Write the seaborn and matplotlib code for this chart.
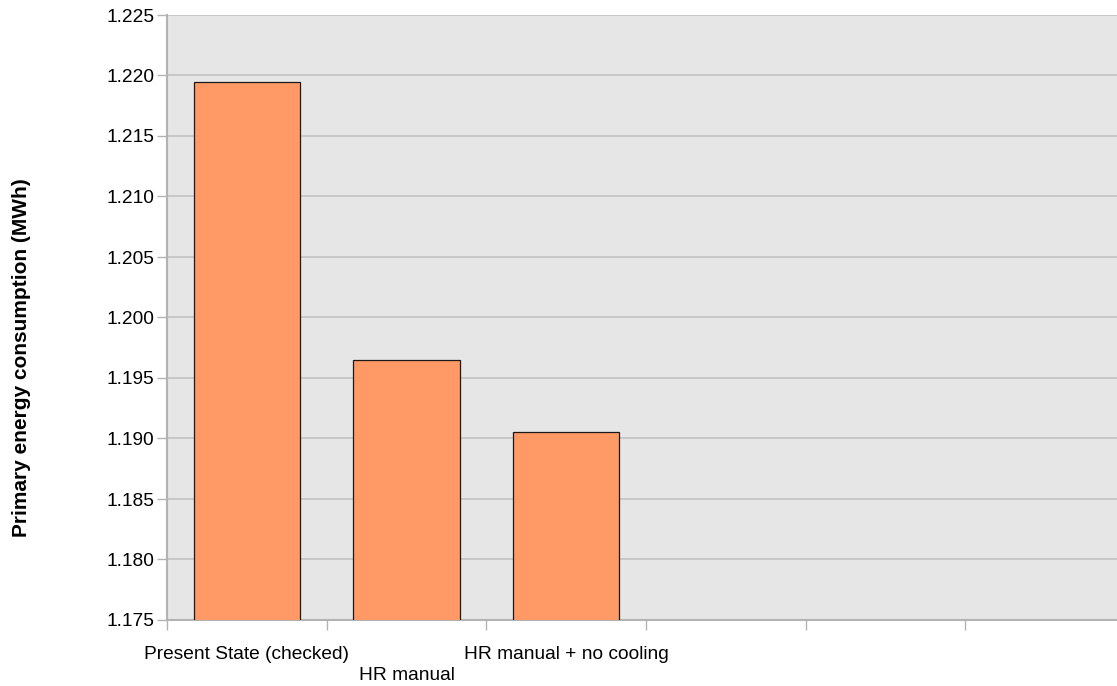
import matplotlib
matplotlib.use("Agg")
import matplotlib.pyplot as plt
import seaborn as sns
import pandas as pd
from matplotlib.ticker import MultipleLocator, FixedLocator, FormatStrFormatter

# Primary energy consumption per scenario
scenarios = ["Present State (checked)", "HR manual", "HR manual + no cooling"]
consumption_mwh = [1.2195, 1.1965, 1.1905]
n_slots = 6  # category slots on the x axis (last three are empty)

y_min, y_max, y_step = 1.175, 1.225, 0.005

sns.set_theme(style="white")
plt.rcParams["font.family"] = ["Liberation Sans", "DejaVu Sans"]

df = pd.DataFrame({"scenario": scenarios, "value": consumption_mwh})

fig = plt.figure(figsize=(11.17, 6.86), dpi=100)
ax = fig.add_axes([167 / 1117, 66 / 686, 958 / 1117, 605 / 686])
ax.set_facecolor("#e6e6e6")

sns.barplot(data=df, x="scenario", y="value", order=scenarios, ax=ax,
            color="#ff9966", saturation=1, width=0.664,
            edgecolor="#1a1a1a", linewidth=0.9, zorder=3)

ax.set_xlim(-0.5, n_slots - 0.5)
ax.set_ylim(y_min, y_max)

# y axis: gridlines every 0.005, labels with three decimals
ax.yaxis.set_major_locator(MultipleLocator(y_step))
ax.yaxis.set_major_formatter(FormatStrFormatter("%.3f"))
ax.grid(axis="y", color="#c3c3c3", linewidth=1.2, zorder=0)
ax.set_axisbelow(True)
ax.tick_params(axis="y", which="major", length=7, width=1.0, color="#b3b3b3",
               labelsize=13.8, pad=2, left=True, labelcolor="#000000")

# x axis: tick marks on category boundaries, staggered labels at centers
ax.xaxis.set_major_locator(FixedLocator([i - 0.5 for i in range(n_slots + 1)]))
ax.xaxis.set_minor_locator(FixedLocator(list(range(len(scenarios)))))
ax.set_xticklabels([""] * (n_slots + 1))
staggered = [("\n" + s) if i % 2 else s for i, s in enumerate(scenarios)]
ax.set_xticklabels(staggered, minor=True, linespacing=1.3)
ax.tick_params(axis="x", which="major", length=7, width=1.0, color="#b3b3b3", bottom=True)
ax.tick_params(axis="x", which="minor", length=0, labelsize=13.8, pad=19,
               bottom=True, labelcolor="#000000")

ax.set_xlabel("")
ax.set_ylabel("Primary energy consumption (MWh)", fontsize=15, fontweight="bold",
              color="#000000")
ax.yaxis.set_label_coords((31 - 167) / 958, (620 - 358) / 605)

for side in ["top", "right"]:
    ax.spines[side].set_visible(False)
for side in ["left", "bottom"]:
    ax.spines[side].set_visible(True)
    ax.spines[side].set_color("#b3b3b3")
    ax.spines[side].set_linewidth(1.5)

fig.savefig("out.png", dpi=100)
